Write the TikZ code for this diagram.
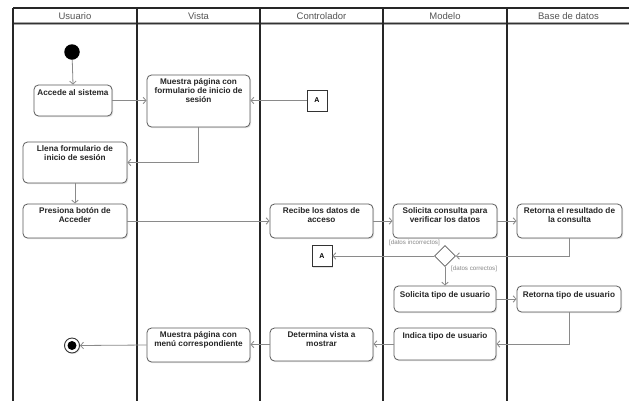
\documentclass[tikz,border=0pt]{standalone}
\usepackage{fontspec}
\setmainfont{Liberation Sans}
\usetikzlibrary{arrows.meta,shadows,shapes.geometric}
\definecolor{hdrtxt}{HTML}{555555}
\definecolor{boxline}{HTML}{5A5A5A}
\definecolor{arrowc}{HTML}{8A8A8A}
\definecolor{lbl}{HTML}{888888}
\tikzset{
  lane/.style={line width=1.3pt, black!85},
  hdr/.style={font=\fontsize{9.5}{11}\selectfont, text=hdrtxt},
  actbox/.style={draw=boxline, line width=0.8pt, rounded corners=4.5pt, fill=white,
    drop shadow={shadow xshift=1.2pt, shadow yshift=-1.2pt, opacity=0.22}},
  acttxt/.style={font=\bfseries\fontsize{8.2}{8.6}\selectfont, align=center, inner sep=0pt, text=black!85, anchor=north},
  conbox/.style={draw=black!80, line width=0.7pt, fill=white, minimum width=20pt, minimum height=21pt, inner sep=0pt,
    font=\bfseries\fontsize{7}{8}\selectfont,
    drop shadow={shadow xshift=1.2pt, shadow yshift=-1.2pt, opacity=0.22}},
  flow/.style={draw=arrowc, line width=0.8pt, -{Straight Barb[length=3pt,width=6.5pt]}},
  guard/.style={font=\fontsize{6.2}{7}\selectfont, text=lbl, inner sep=0pt},
}
\begin{document}
\begin{tikzpicture}[x=1pt,y=-1pt]
\useasboundingbox (0,0) rectangle (629,400);
\fill[white] (0,0) rectangle (629,400);
% lanes
\draw[lane] (13,8) -- (632,8);
\draw[line width=2.2pt, black!35] (13,23.5) -- (632,23.5);
\draw[line width=0.7pt, black!80] (13,23) -- (632,23);
\foreach \x in {13,137,260,383,507} \draw[lane] (\x,8) -- (\x,402);
\node[hdr] (h1) at (75,16) {Usuario};
\node[hdr] (h2) at (198.5,16) {Vista};
\node[hdr] (h3) at (321.5,16) {Controlador};
\node[hdr] (h4) at (445,16) {Modelo};
\node[hdr] (h5) at (568.5,16) {Base de datos};
% start
\node[circle, fill=black, minimum size=15.5pt, inner sep=0pt] (start) at (72,52) {};
% boxes
\node[actbox, minimum width=78pt, minimum height=31pt] (acc) at (73,100.5) {};
\node[acttxt] (acct) at ([yshift=-4.5pt]acc.north) {Accede al sistema};
\node[actbox, minimum width=103pt, minimum height=52pt] (mpf) at (198.5,101) {};
\node[acttxt] (mpft) at ([yshift=-4pt]mpf.north) {Muestra página con\\formulario de inicio de\\sesión};
\node[conbox] (a1) at (317,100.5) {A};
\node[actbox, minimum width=104pt, minimum height=41pt] (llena) at (75,162.5) {};
\node[acttxt] (llenat) at ([yshift=-4pt]llena.north) {Llena formulario de\\inicio de sesión};
\node[actbox, minimum width=104pt, minimum height=34pt] (pres) at (75,221) {};
\node[acttxt] (prest) at ([yshift=-4pt]pres.north) {Presiona botón de\\Acceder};
\node[actbox, minimum width=103pt, minimum height=34pt] (rec) at (321.5,221) {};
\node[acttxt] (rect) at ([yshift=-4pt]rec.north) {Recibe los datos de\\acceso};
\node[actbox, minimum width=104pt, minimum height=34pt] (sol) at (445,221) {};
\node[acttxt] (solt) at ([yshift=-4pt]sol.north) {Solicita consulta para\\verificar los datos};
\node[actbox, minimum width=105pt, minimum height=34pt] (ret) at (569.5,221) {};
\node[acttxt] (rett) at ([yshift=-4pt]ret.north) {Retorna el resultado de\\la consulta};
\node[diamond, draw=boxline, line width=0.8pt, fill=white, minimum width=21pt, minimum height=21pt, inner sep=0pt] (dec) at (445,256) {};
\node[conbox] (a2) at (322,256) {A};
\node[guard, anchor=south east] (gi) at (440,246) {[datos incorrectos]};
\node[guard, anchor=west] (gc) at (451,269) {[datos correctos]};
\node[actbox, minimum width=102pt, minimum height=26pt] (stip) at (445,299) {};
\node[acttxt] (stipt) at ([yshift=-5.5pt]stip.north) {Solicita tipo de usuario};
\node[actbox, minimum width=104pt, minimum height=26pt] (rtip) at (569,299) {};
\node[acttxt] (rtipt) at ([yshift=-5.5pt]rtip.north) {Retorna tipo de usuario};
\node[actbox, minimum width=102pt, minimum height=32pt] (ind) at (445,344) {};
\node[acttxt] (indt) at ([yshift=-4.5pt]ind.north) {Indica tipo de usuario};
\node[actbox, minimum width=103pt, minimum height=33pt] (det) at (321.5,344.5) {};
\node[acttxt] (dett) at ([yshift=-4pt]det.north) {Determina vista a\\mostrar};
\node[actbox, minimum width=103pt, minimum height=34pt] (menu) at (198.5,345) {};
\node[acttxt] (menut) at ([yshift=-4pt]menu.north) {Muestra página con\\menú correspondiente};
% end
\node[circle, draw=black!80, line width=0.9pt, fill=white, minimum size=15pt, inner sep=0pt,
  drop shadow={shadow xshift=1pt, shadow yshift=-1pt, opacity=0.2}] (fin) at (72,345.5) {};
\node[circle, fill=black, minimum size=9pt, inner sep=0pt] (fini) at (fin.center) {};
% flows
\draw[flow] (start) -- (acc.north);
\draw[flow] (acc.east) -- (acc.east -| mpf.west);
\draw[flow] (a1.west) -- (a1.west -| mpf.east);
\draw[flow] (mpf.south) |- (llena.east);
\draw[flow] (llena.south) -- (pres.north);
\draw[flow] (pres.east) -- (rec.west);
\draw[flow] (rec.east) -- (sol.west);
\draw[flow] (sol.east) -- (ret.west);
\draw[flow] (ret.south) |- (dec.east);
\draw[flow] (dec.west) -- (a2.east);
\draw[flow] (dec.south) -- (stip.north);
\draw[flow] (stip.east) -- (rtip.west);
\draw[flow] (rtip.south) |- (ind.east);
\draw[flow] (ind.west) -- (ind.west -| det.east);
\draw[flow] (det.west) -- (det.west -| menu.east);
\draw[flow] (menu.west) -- (fin.east);
\end{tikzpicture}
\end{document}
